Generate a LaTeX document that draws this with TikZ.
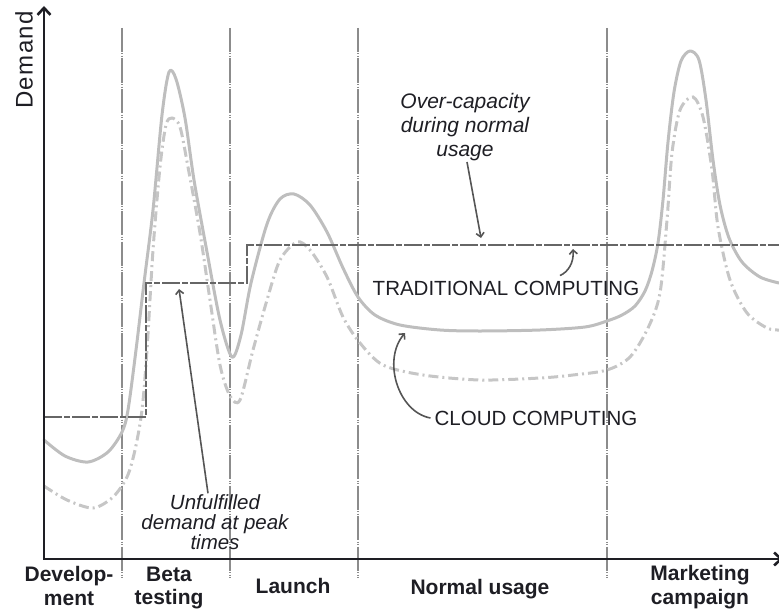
\documentclass[tikz,border=0pt]{standalone}
\usepackage{fontspec}
\setmainfont{Liberation Sans}
\usetikzlibrary{arrows.meta}
\definecolor{ink}{HTML}{1E1E24}
\definecolor{cloudgray}{HTML}{BEBEBE}
\definecolor{demandgray}{HTML}{C6C6C6}
\definecolor{stepgray}{HTML}{666666}
\definecolor{divgray}{HTML}{8C8C8C}
\definecolor{notegray}{HTML}{555555}

\begin{document}
\begin{tikzpicture}[x=1pt,y=-1pt,
  axis/.style={line width=2.6pt, ink, line join=miter},
  divider/.style={divgray, line width=1.1pt,
    dash pattern=on 24pt off 1.5pt on 1pt off 1.5pt on 1pt off 1.5pt},
  cloudline/.style={cloudgray, line width=3pt, line cap=round, line join=round},
  demandline/.style={demandgray, line width=3pt,
    dash pattern=on 10pt off 4pt on 2pt off 4pt},
  capline/.style={stepgray, line width=2.4pt,
    dash pattern=on 18pt off 2pt on 6pt off 2pt},
  pointer/.style={notegray, line width=1.6pt,
    -{Straight Barb[length=4pt,width=8pt]}},
  phase/.style={font=\fontsize{21}{23.5}\selectfont\bfseries, text=ink,
    align=center, inner sep=0pt},
  note/.style={font=\fontsize{21}{24}\selectfont\itshape, text=ink,
    align=center, inner sep=1pt},
  tag/.style={font=\fontsize{20.5}{24}\selectfont, text=ink, inner sep=1pt},
]
\useasboundingbox (0,0) rectangle (779,610);

% phase dividers
\foreach \x in {122,230,358,607}
  \draw[divider] (\x,28) -- (\x,578);

% cloud computing capacity (solid)
\draw[cloudline] plot[smooth, tension=0.5] coordinates {
  (44,440) (65,456) (88,462) (108,452) (122,432) (128,410) (136,350)
  (144,283) (153,210) (162,115) (169,72) (176,79) (185,118) (194,180)
  (207,252) (220,320) (232,357) (241,335) (251,283) (267,224) (280,199)
  (294,194) (310,205) (327,232) (343,268) (358,297) (375,315) (400,325)
  (440,330) (480,331) (540,330) (585,327) (607,321) (622,315) (635,306)
  (645,291) (652,271) (658,243) (663,200) (668,142) (674,92) (681,61)
  (690,51) (699,60) (706,100) (713,160) (720,205) (729,238) (742,262)
  (760,277) (779,283)};

% actual demand (dash-dot)
\draw[demandline] plot[smooth, tension=0.5] coordinates {
  (44,486) (67,500) (93,508) (113,497) (127,477) (135,450) (142,410)
  (147,350) (153,250) (160,167) (166,125) (172,118) (180,127) (188,167)
  (200,233) (210,300) (220,365) (230,396) (240,400) (253,350) (267,300)
  (280,260) (297,242) (310,250) (327,277) (343,317) (360,343) (383,365)
  (423,375) (480,380) (540,378) (573,375) (607,370) (630,357) (648,328)
  (660,293) (667,220) (672,153) (680,110) (693,97) (703,117) (712,170)
  (718,227) (730,280) (747,313) (767,328) (779,330)};

% traditional computing capacity (steps)
\draw[capline] (44,417) -- (146,417) -- (146,283) -- (247,283)
  -- (247,245) -- (779,245);

% axes
\coordinate (ytop) at (44,6);
\coordinate (origin) at (44,559);
\coordinate (xend) at (783,559);
\draw[axis, {Straight Barb[length=7pt,width=13pt]}-{Straight Barb[length=7pt,width=13pt]}]
  (ytop) -- (origin) -- (xend);

\node[font=\fontsize{24}{25}\selectfont\addfontfeature{LetterSpace=6}, text=ink,
  rotate=90, inner sep=0pt] (demand) at (24,60) {Demand};

% phase labels
\node[phase] (dev) at (69,586) {Develop-\\ment};
\node[phase] (beta) at (169,588) {Beta\\testing};
\node[phase] (launch) at (293,586) {Launch};
\node[phase] (normal) at (480,589) {Normal usage};
\node[phase] (mkt) at (700,587) {Marketing\\campaign};

% annotations
\node[note] (oc) at (465,127) {Over-capacity\\during normal\\usage};
\node[note, font=\fontsize{20.5}{20}\selectfont\itshape] (uf) at (215,522)
  {Unfulfilled\\demand at peak\\times};
\node[tag] (trad) at (506,288) {TRADITIONAL COMPUTING};
\node[tag] (cloud) at (536,418) {CLOUD COMPUTING};

\coordinate (ocTip) at (481,238);
\coordinate (ufTip) at (179,289);
\coordinate (tradTip) at (573,249);
\coordinate (cloudTip) at (405,333);

\draw[pointer] ([xshift=2pt]oc.south) -- (ocTip);
\draw[pointer] ([xshift=-7pt]uf.north) -- (ufTip);
\draw[pointer] ([xshift=54pt,yshift=4pt]trad.north)
  .. controls (568,272) and (574,263) .. (tradTip);
\draw[pointer] ([xshift=-3pt]cloud.west)
  .. controls (398,412) and (382,360) .. (cloudTip);
\end{tikzpicture}
\end{document}
